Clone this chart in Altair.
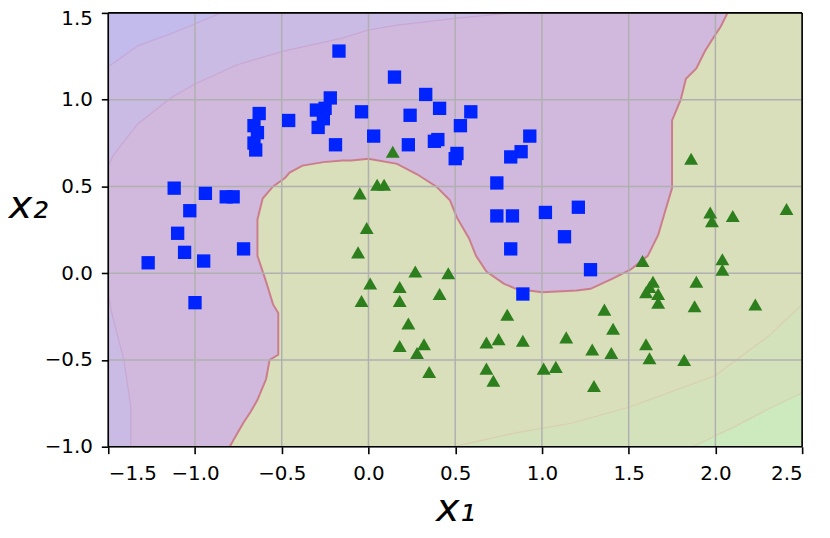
import altair as alt
import pandas as pd

# axis limits and ticks
x_limits = [-1.5, 2.5]
y_limits = [-1.0, 1.5]
x_ticks = [-1.5, -1.0, -0.5, 0.0, 0.5, 1.0, 1.5, 2.0, 2.5]
y_ticks = [-1.0, -0.5, 0.0, 0.5, 1.0, 1.5]

# class 0 (blue squares)
blue_x = [-0.17, 0.15, 0.33, 0.41, 0.59, -0.04, 0.24, 0.53, 0.03, 0.38, 0.40, 0.23, -0.19,
          0.93, 0.88, 0.82, 0.51, 0.50, 0.74, 0.74, 0.83, 1.02, 1.21, 1.13, 0.82, 0.89, 1.28,
          -1.12, -0.94, -0.82, -0.78, -1.03, -1.10, -1.06, -0.95, -1.27, -0.72, -1.00,
          -0.46, -0.63, -0.66, -0.64, -0.66, -0.65, -0.22, -0.30, -0.25, -0.26, -0.29]
blue_y = [1.28, 1.13, 1.03, 0.95, 0.93, 0.93, 0.91, 0.85, 0.79, 0.76, 0.77, 0.74, 0.74,
          0.79, 0.70, 0.67, 0.69, 0.66, 0.52, 0.33, 0.33, 0.35, 0.38, 0.21, 0.14, -0.12, 0.02,
          0.49, 0.46, 0.44, 0.44, 0.36, 0.23, 0.12, 0.07, 0.06, 0.14, -0.17,
          0.88, 0.92, 0.85, 0.81, 0.75, 0.71, 1.01, 0.94, 0.95, 0.89, 0.84]

# class 1 (green triangles)
green_x = [0.14, 0.05, 0.09, -0.05, -0.01, -0.06, 0.27, 0.46, 0.01, 0.18, 0.41, -0.04, 0.18,
           0.23, 0.18, 0.32, 0.28, 0.35, 0.80, 0.68, 0.75, 0.89, 1.14, 0.68, 0.72, 1.01, 1.08,
           1.36, 1.41, 1.29, 1.40, 1.30, 1.67, 1.88, 2.23, 1.60, 1.62, 1.82, 1.86, 1.97, 1.98,
           2.10, 2.41, 2.04, 2.04, 1.58, 1.64, 1.62, 1.60, 1.67, 1.89]
green_y = [0.70, 0.51, 0.51, 0.46, 0.26, 0.12, 0.01, 0.00, -0.06, -0.08, -0.12, -0.16, -0.16,
           -0.29, -0.42, -0.41, -0.46, -0.57, -0.24, -0.40, -0.38, -0.39, -0.37, -0.55, -0.62,
           -0.55, -0.54, -0.21, -0.32, -0.44, -0.46, -0.65, -0.17, -0.19, -0.18, -0.41, -0.49,
           -0.50, 0.66, 0.35, 0.30, 0.33, 0.37, 0.08, 0.02, 0.07, -0.05, -0.08, -0.11, -0.12, -0.05]

# decision boundary (class 0 region lies above / left of it)
boundary_x = [-0.80, -0.76, -0.72, -0.68, -0.64, -0.59, -0.57, -0.52, -0.52, -0.55, -0.59, -0.64,
              -0.64, -0.61, -0.55, -0.48, -0.455, -0.38, -0.26, -0.15, -0.10, 0.00, 0.165, 0.28,
              0.39, 0.47, 0.51, 0.58, 0.62, 0.68, 0.78, 0.85, 1.00, 1.20, 1.28, 1.41, 1.51, 1.61,
              1.67, 1.72, 1.75, 1.75, 1.75, 1.80, 1.83, 1.89, 1.94, 1.99, 2.03, 2.07]
boundary_y = [-1.0, -0.93, -0.86, -0.80, -0.73, -0.61, -0.50, -0.47, -0.23, -0.18, -0.05, 0.10,
              0.31, 0.43, 0.50, 0.55, 0.58, 0.62, 0.64, 0.65, 0.65, 0.66, 0.63, 0.57,
              0.50, 0.42, 0.32, 0.20, 0.10, 0.01, -0.06, -0.09, -0.11, -0.10, -0.09, -0.03, 0.02,
              0.10, 0.22, 0.39, 0.49, 0.68, 0.88, 1.00, 1.12, 1.18, 1.28, 1.36, 1.42, 1.5]

# decision-function contour levels, class 0 side
outer_x = [0.83, 0.51, 0.165, -0.006, -0.15, -0.49, -0.76, -1.00, -1.14, -1.33, -1.47, -1.56,
           -1.56, -1.50, -1.485, -1.41, -1.37, -1.37]
outer_y = [1.5, 1.47, 1.43, 1.40, 1.355, 1.28, 1.20, 1.09, 1.01, 0.86, 0.68, 0.50,
           -0.05, -0.11, -0.21, -0.50, -0.77, -1.0]
corner_x = [-1.6, -1.485, -1.33, -1.14, -0.99, -0.85]
corner_y = [1.15, 1.20, 1.31, 1.38, 1.44, 1.5]

# decision-function contour levels, class 1 side
gmid_x = [0.49, 0.85, 1.17, 1.51, 2.00, 2.31, 2.50]
gmid_y = [-1.0, -0.92, -0.865, -0.77, -0.59, -0.36, -0.18]
gcorner_x = [1.87, 2.12, 2.31, 2.50]
gcorner_y = [-1.0, -0.88, -0.78, -0.69]

W, H = 699, 437
FONT = "DejaVu Sans"

xscale = alt.Scale(domain=x_limits, nice=False, zero=False)
yscale = alt.Scale(domain=y_limits, nice=False, zero=False)

xaxis = alt.Axis(values=x_ticks, format=".1f", grid=False, domain=False,
                 tickColor="black", tickWidth=1.6, tickSize=7,
                 labelFont=FONT, labelFontSize=20, labelColor="black", labelPadding=10,
                 title="x\u2081", titleFont=FONT, titleFontSize=40, titleFontStyle="italic",
                 titleFontWeight="normal", titleColor="black", titleX=W / 2, titleY=74,
                 titleAlign="center", titleBaseline="alphabetic", zindex=1)
yaxis = alt.Axis(values=y_ticks, format=".1f", grid=False, domain=False,
                 tickColor="black", tickWidth=1.6, tickSize=7,
                 labelFont=FONT, labelFontSize=20, labelColor="black", labelPadding=9,
                 labelOffset={"condition": {"test": "datum.value == 1.5", "value": 6}, "value": 0},
                 title="x\u2082", titleFont=FONT, titleFontSize=40, titleFontStyle="italic",
                 titleFontWeight="normal", titleColor="black", titleAngle=0, titleX=-81, titleY=206,
                 titleAlign="center", titleBaseline="alphabetic", zindex=1)

X = alt.X("x:Q", scale=xscale, axis=xaxis)
Y = alt.Y("y:Q", scale=yscale, axis=yaxis)


def polygon(xs, ys, fill, stroke, sw):
    df = pd.DataFrame({"x": xs, "y": ys, "i": list(range(len(xs)))})
    return alt.Chart(df).mark_line(fill=fill, stroke=stroke, strokeWidth=sw, clip=True).encode(
        x=X, y=Y, order=alt.Order("i:Q"))


pad = 0.1
purple = polygon(boundary_x + [x_limits[0], x_limits[0]],
                 boundary_y + [y_limits[1], y_limits[0]],
                 "#d0b9dc", "#d0b9dc", 0)
band_outer = polygon(outer_x + [x_limits[0] - pad, x_limits[0] - pad],
                     outer_y + [y_limits[0], y_limits[1]],
                     "#cabbe4", "#c9a7d4", 1.2)
band_corner = polygon(corner_x + [x_limits[0] - pad],
                      corner_y + [y_limits[1]],
                      "#c3bbec", "#c5a8d8", 1.2)
band_gmid = polygon(gmid_x + [x_limits[1]], gmid_y + [y_limits[0]],
                    "#d4e2bb", "#d8cfad", 1.2)
band_gcorner = polygon(gcorner_x + [x_limits[1]], gcorner_y + [y_limits[0]],
                       "#cdeabf", "#d4d2ae", 1.2)

bdf = pd.DataFrame({"x": boundary_x, "y": boundary_y, "i": list(range(len(boundary_x)))})
boundary = alt.Chart(bdf).mark_line(color="#cc7d8c", strokeWidth=2, clip=True).encode(
    x=X, y=Y, order=alt.Order("i:Q"))

gridx = alt.Chart(pd.DataFrame({"x": x_ticks})).mark_rule(color="#b0b0b0", strokeWidth=1.5).encode(x=X)
gridy = alt.Chart(pd.DataFrame({"y": y_ticks})).mark_rule(color="#b0b0b0", strokeWidth=1.5).encode(y=Y)

blue = alt.Chart(pd.DataFrame({"x": blue_x, "y": blue_y})).mark_point(
    shape="square", filled=True, size=180, color="#0024ff", opacity=1).encode(x=X, y=Y)
green = alt.Chart(pd.DataFrame({"x": green_x, "y": green_y})).mark_point(
    shape="triangle-up", filled=True, size=196, color="#2d7f1e", opacity=1).encode(x=X, y=Y)

framex = alt.Chart(pd.DataFrame({"x": x_limits})).mark_rule(color="black", strokeWidth=1.6).encode(x=X)
framey = alt.Chart(pd.DataFrame({"y": y_limits})).mark_rule(color="black", strokeWidth=1.6).encode(y=Y)

chart = alt.layer(
    purple, band_outer, band_corner, band_gmid, band_gcorner, boundary,
    gridx, gridy, blue, green, framex, framey
).properties(
    width=W, height=H,
    padding={"left": 101, "top": 3, "right": 20, "bottom": 85},
    autosize=alt.AutoSizeParams(type="none"),
).configure_view(fill="#d8dfba", stroke="transparent")

chart.save("out.html", embed_options={"renderer": "svg", "actions": False})
